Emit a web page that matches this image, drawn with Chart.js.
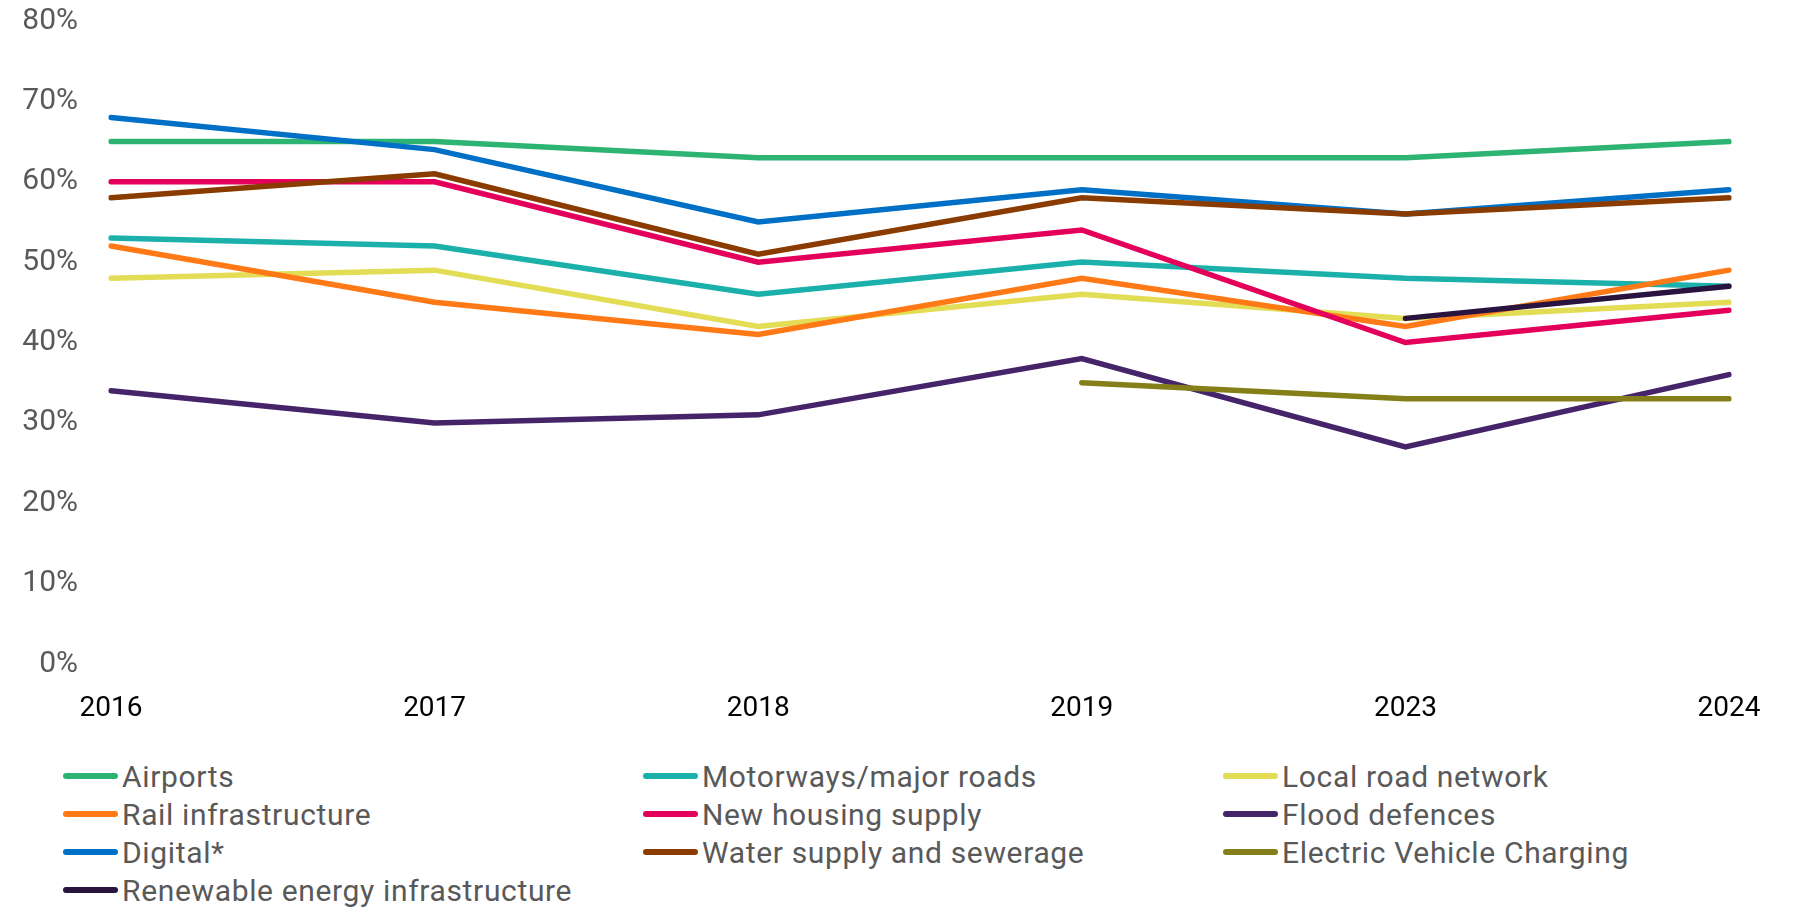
<!DOCTYPE html>
<html>
<head>
<meta charset="utf-8">
<script src="https://cdn.jsdelivr.net/npm/chart.js@4.4.1/dist/chart.umd.min.js"></script>
<style>
  body { margin: 0; background: #fff; font-family: Roboto, sans-serif; overflow: hidden; }
  #wrap { position: relative; width: 1793px; height: 907px; overflow: hidden; }
  #chartBox { position: absolute; left: 0; top: -30px; width: 1793px; height: 771px; }
  #legend {
    position: absolute; left: 63px; top: 757px;
    display: grid; grid-template-columns: 580px 580px 580px; grid-auto-rows: 38px;
  }
  .item { display: flex; align-items: center; font-size: 30px; letter-spacing: 0.65px; color: #595959; white-space: nowrap; }
  .swatch { width: 55px; height: 6px; border-radius: 3px; margin-right: 4px; }
</style>
</head>
<body>
<div id="wrap">
  <div id="chartBox"><canvas id="trendChart"></canvas></div>
  <div id="legend"></div>
</div>
<script>
// data
const years = ['2016', '2017', '2018', '2019', '2023', '2024'];

const airports    = [65, 65, 63, 63, 63, 65];
const motorways   = [53, 52, 46, 50, 48, 47];
const localRoads  = [48, 49, 42, 46, 43, 45];
const rail        = [52, 45, 41, 48, 42, 49];
const housing     = [60, 60, 50, 54, 40, 44];
const flood       = [34, 30, 31, 38, 27, 36];
const digital     = [68, 64, 55, 59, 56, 59];
const water       = [58, 61, 51, 58, 56, 58];
const evCharging  = [null, null, null, 35, 33, 33];
const renewables  = [null, null, null, null, 43, 47];

const seriesNames = [
    'Airports', 'Motorways/major roads', 'Local road network',
    'Rail infrastructure', 'New housing supply', 'Flood defences',
    'Digital*', 'Water supply and sewerage', 'Electric Vehicle Charging',
    'Renewable energy infrastructure'
];
const seriesValues = [airports, motorways, localRoads, rail, housing, flood, digital, water, evCharging, renewables];
const seriesColors = [
    '#2db473', '#1cb0ab', '#e3dc55', '#ff7a17', '#e4005a',
    '#45246a', '#0070c6', '#8a3b00', '#857f19', '#29143f'
];
const yTicks = [0, 10, 20, 30, 40, 50, 60, 70, 80];

function buildLegend(elId) {
    const box = document.getElementById(elId);
    seriesNames.forEach((name, i) => {
        const item = document.createElement('div');
        item.className = 'item';
        const sw = document.createElement('span');
        sw.className = 'swatch';
        sw.style.background = seriesColors[i];
        item.appendChild(sw);
        item.appendChild(document.createTextNode(name));
        box.appendChild(item);
    });
}

function initTrendChart(ctxId) {
    const ctx = document.getElementById(ctxId).getContext('2d');
    const datasets = seriesNames.map((name, i) => ({
        label: name,
        data: seriesValues[i],
        borderColor: seriesColors[i],
        backgroundColor: seriesColors[i],
        borderWidth: 5.5,
        borderCapStyle: 'round',
        pointRadius: 0,
        tension: 0,
        spanGaps: false,
        order: seriesNames.length - i // later series drawn on top
    }));

    return new Chart(ctx, {
        type: 'line',
        data: { labels: years, datasets },
        options: {
            responsive: true,
            maintainAspectRatio: false,
            animation: false,
            layout: { padding: { top: 0, right: 64, bottom: 0, left: 0 } },
            plugins: { legend: { display: false }, tooltip: { enabled: false } },
            scales: {
                x: {
                    offset: false,
                    grid: { display: false, drawTicks: false },
                    border: { display: false },
                    ticks: { color: '#000', font: { family: 'Roboto', size: 28 }, padding: 28, maxRotation: 0 },
                    afterFit: s => { s.height = 77; }
                },
                y: {
                    min: 0, max: 80,
                    afterBuildTicks: s => { s.ticks = yTicks.map(v => ({ value: v })); },
                    grid: { display: false, drawTicks: false },
                    border: { display: false },
                    ticks: {
                        color: '#595959', font: { family: 'Roboto', size: 30 }, padding: 33,
                        callback: v => v + '%'
                    },
                    afterFit: s => { s.width = 111; }
                }
            }
        }
    });
}

buildLegend('legend');
initTrendChart('trendChart');
</script>
</body>
</html>
